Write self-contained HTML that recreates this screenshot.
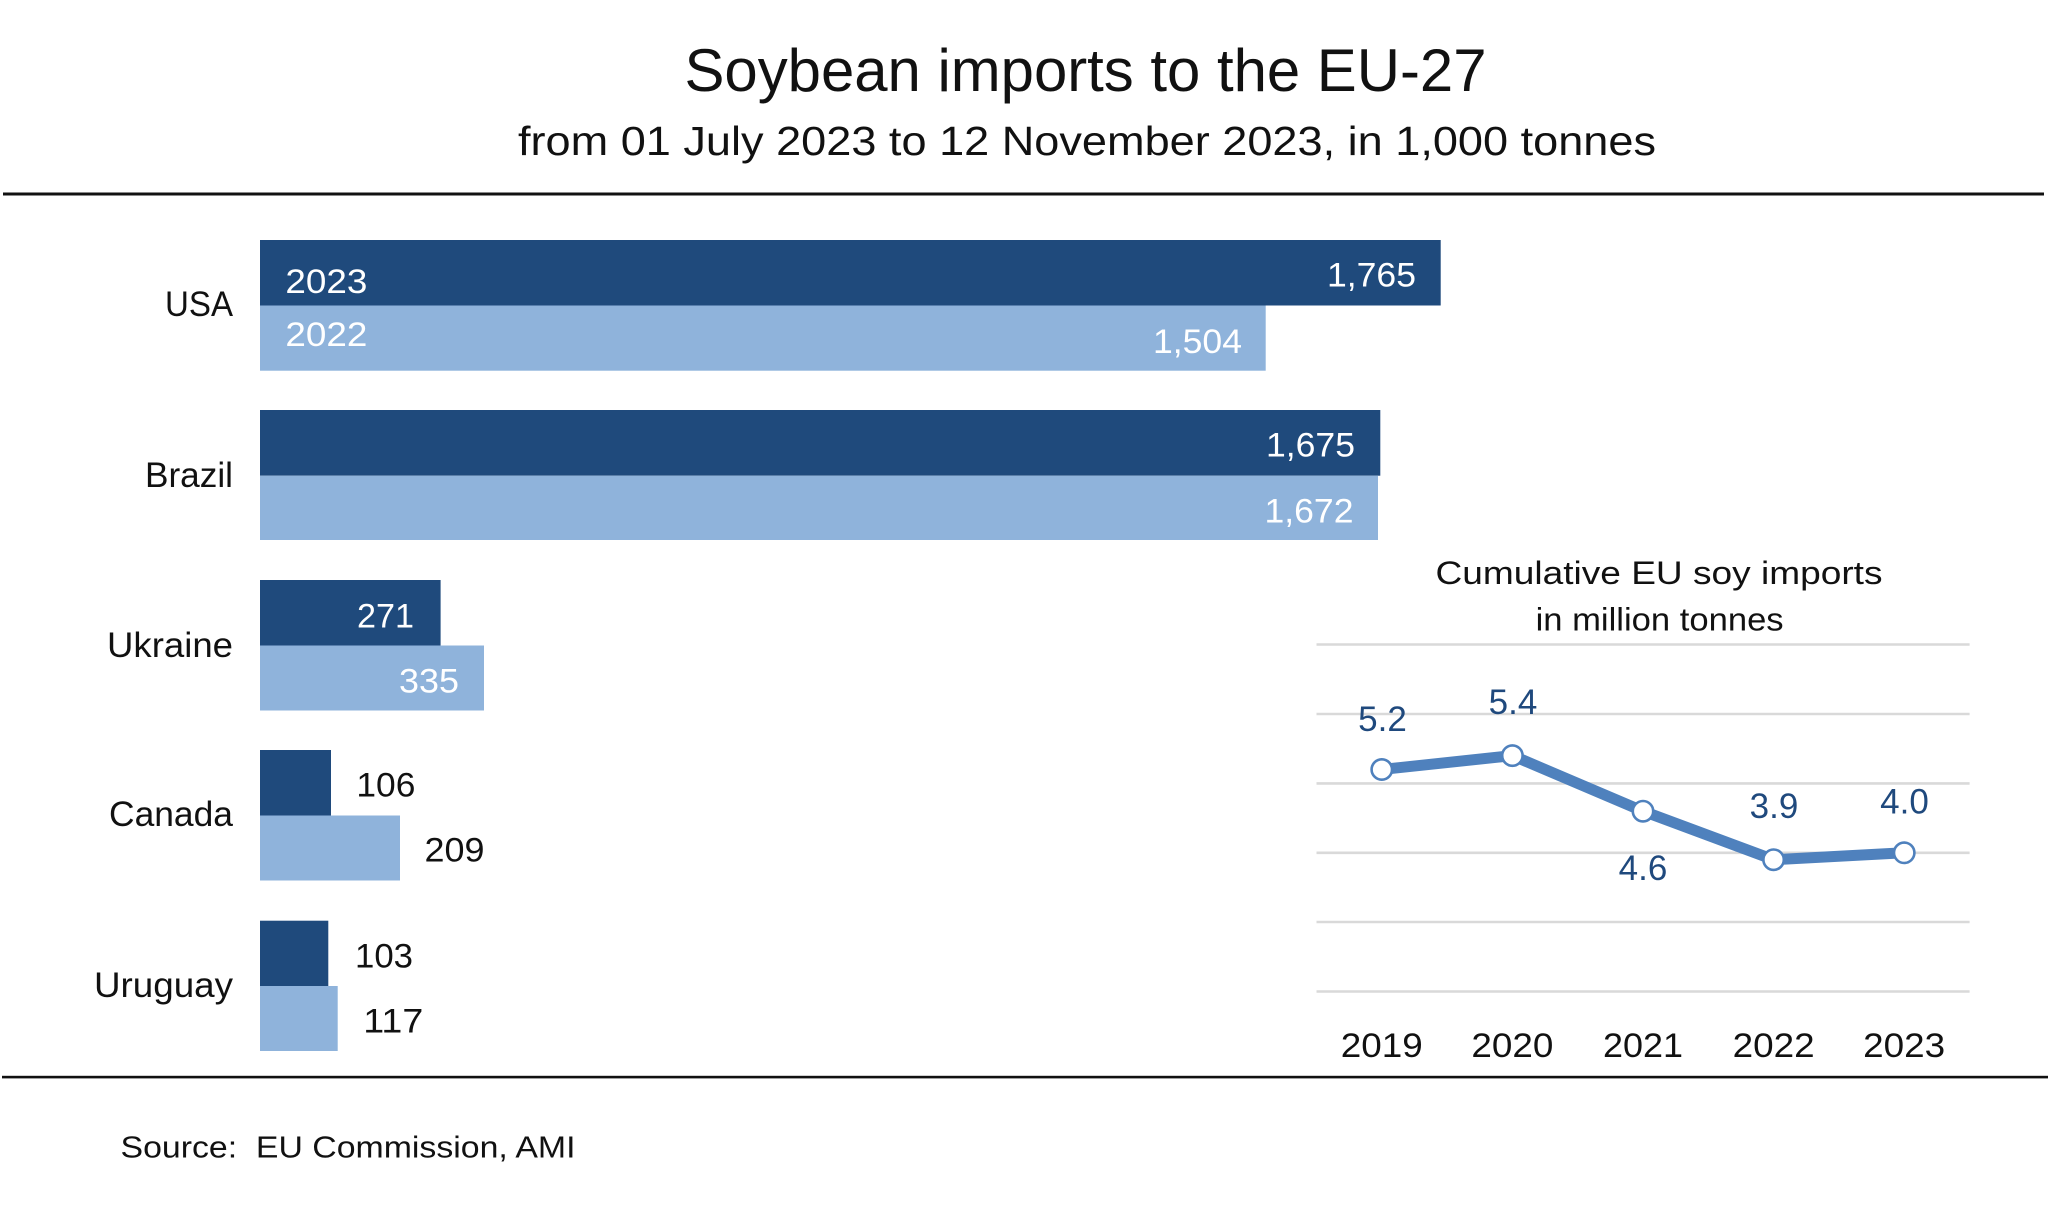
<!DOCTYPE html>
<html>
<head>
<meta charset="utf-8">
<style>
  html, body { margin: 0; padding: 0; background: #ffffff; }
  body { width: 2048px; height: 1209px; overflow: hidden; }
  svg { display: block; }
  text { font-family: "Liberation Sans", "DejaVu Sans", sans-serif; }
</style>
</head>
<body>
<svg width="2048" height="1209" viewBox="0 0 2048 1209" xmlns="http://www.w3.org/2000/svg">
  <rect x="0" y="0" width="2048" height="1209" fill="#ffffff"/>

  <!-- Titles -->
  <text x="684.5" y="91" font-size="60" fill="#111" textLength="802" lengthAdjust="spacingAndGlyphs">Soybean imports to the EU-27</text>
  <text x="518" y="155" font-size="41" fill="#111" textLength="1138" lengthAdjust="spacingAndGlyphs">from 01 July 2023 to 12 November 2023, in 1,000 tonnes</text>

  <!-- Rules -->
  <rect x="3" y="192.5" width="2041" height="3" fill="#111"/>
  <rect x="2" y="1075.8" width="2046" height="2.6" fill="#111"/>

  <!-- Bars -->
  <g>
    <rect x="260" y="240" width="1180.7" height="65.5" fill="#1F4A7C"/>
    <rect x="260" y="305.5" width="1005.7" height="65.2" fill="#8FB3DB"/>
    <rect x="260" y="410" width="1120.3" height="65.7" fill="#1F4A7C"/>
    <rect x="260" y="475.7" width="1118" height="64.3" fill="#8FB3DB"/>
    <rect x="260" y="580" width="180.6" height="65.5" fill="#1F4A7C"/>
    <rect x="260" y="645.5" width="224" height="65" fill="#8FB3DB"/>
    <rect x="260" y="750" width="71" height="65.5" fill="#1F4A7C"/>
    <rect x="260" y="815.5" width="140" height="65" fill="#8FB3DB"/>
    <rect x="260" y="920.7" width="68.3" height="65.3" fill="#1F4A7C"/>
    <rect x="260" y="986" width="77.7" height="65" fill="#8FB3DB"/>
  </g>

  <!-- Country labels -->
  <g font-size="35" fill="#111" text-anchor="end">
    <text x="233" y="316" textLength="68" lengthAdjust="spacingAndGlyphs">USA</text>
    <text x="233" y="487" textLength="88" lengthAdjust="spacingAndGlyphs">Brazil</text>
    <text x="233" y="657" textLength="126" lengthAdjust="spacingAndGlyphs">Ukraine</text>
    <text x="233" y="826" textLength="124" lengthAdjust="spacingAndGlyphs">Canada</text>
    <text x="233" y="997" textLength="139" lengthAdjust="spacingAndGlyphs">Uruguay</text>
  </g>

  <!-- Year labels inside USA bars -->
  <g font-size="34" fill="#ffffff">
    <text x="285.4" y="293" textLength="82" lengthAdjust="spacingAndGlyphs">2023</text>
    <text x="285.4" y="346" textLength="82" lengthAdjust="spacingAndGlyphs">2022</text>
  </g>

  <!-- Value labels inside bars -->
  <g font-size="34" fill="#ffffff" text-anchor="end">
    <text x="1416" y="286.5" textLength="89" lengthAdjust="spacingAndGlyphs">1,765</text>
    <text x="1242" y="353" textLength="89" lengthAdjust="spacingAndGlyphs">1,504</text>
    <text x="1355" y="456.5" textLength="89" lengthAdjust="spacingAndGlyphs">1,675</text>
    <text x="1353.5" y="522.7" textLength="89" lengthAdjust="spacingAndGlyphs">1,672</text>
    <text x="414" y="627.3" textLength="57" lengthAdjust="spacingAndGlyphs">271</text>
    <text x="459" y="692.4" textLength="60" lengthAdjust="spacingAndGlyphs">335</text>
  </g>
  <!-- Value labels outside bars -->
  <g font-size="34" fill="#111">
    <text x="356.4" y="796.7" textLength="59" lengthAdjust="spacingAndGlyphs">106</text>
    <text x="424.5" y="861.7" textLength="60" lengthAdjust="spacingAndGlyphs">209</text>
    <text x="355" y="967.7" textLength="58" lengthAdjust="spacingAndGlyphs">103</text>
    <text x="363.3" y="1032.7" textLength="60" lengthAdjust="spacingAndGlyphs">117</text>
  </g>

  <!-- Inset line chart -->
  <g>
    <text x="1659" y="584" font-size="32" fill="#111" text-anchor="middle" textLength="447" lengthAdjust="spacingAndGlyphs">Cumulative EU soy imports</text>
    <text x="1659.6" y="630.3" font-size="32" fill="#111" text-anchor="middle" textLength="248" lengthAdjust="spacingAndGlyphs">in million tonnes</text>

    <g stroke="#D9D9D9" stroke-width="2.6">
      <line x1="1316.5" y1="644.5" x2="1969.6" y2="644.5"/>
      <line x1="1316.5" y1="714" x2="1969.6" y2="714"/>
      <line x1="1316.5" y1="783.4" x2="1969.6" y2="783.4"/>
      <line x1="1316.5" y1="852.8" x2="1969.6" y2="852.8"/>
      <line x1="1316.5" y1="922" x2="1969.6" y2="922"/>
      <line x1="1316.5" y1="991.5" x2="1969.6" y2="991.5"/>
    </g>

    <polyline points="1381.8,769.5 1512.4,755.6 1643,811.2 1773.6,859.7 1904.2,852.8"
              fill="none" stroke="#4F81BD" stroke-width="11" stroke-linejoin="round" stroke-linecap="round"/>
    <g fill="#ffffff" stroke="#4F81BD" stroke-width="2.6">
      <circle cx="1381.8" cy="769.5" r="10.2"/>
      <circle cx="1512.4" cy="755.6" r="10.2"/>
      <circle cx="1643" cy="811.2" r="10.2"/>
      <circle cx="1773.6" cy="859.7" r="10.2"/>
      <circle cx="1904.2" cy="852.8" r="10.2"/>
    </g>

    <g font-size="35" fill="#1F497D" text-anchor="middle">
      <text x="1382.5" y="731">5.2</text>
      <text x="1513" y="714">5.4</text>
      <text x="1643" y="880">4.6</text>
      <text x="1774" y="818">3.9</text>
      <text x="1904.5" y="813.5">4.0</text>
    </g>

    <g font-size="34" fill="#111" text-anchor="middle">
      <text x="1381.8" y="1057" textLength="82" lengthAdjust="spacingAndGlyphs">2019</text>
      <text x="1512.4" y="1057" textLength="82" lengthAdjust="spacingAndGlyphs">2020</text>
      <text x="1643" y="1057" textLength="80" lengthAdjust="spacingAndGlyphs">2021</text>
      <text x="1773.6" y="1057" textLength="82" lengthAdjust="spacingAndGlyphs">2022</text>
      <text x="1904.2" y="1057" textLength="82" lengthAdjust="spacingAndGlyphs">2023</text>
    </g>
  </g>

  <!-- Source -->
  <text x="120.5" y="1157.3" font-size="31" fill="#111" textLength="455" lengthAdjust="spacingAndGlyphs">Source:&#160; EU Commission, AMI</text>
</svg>
</body>
</html>
